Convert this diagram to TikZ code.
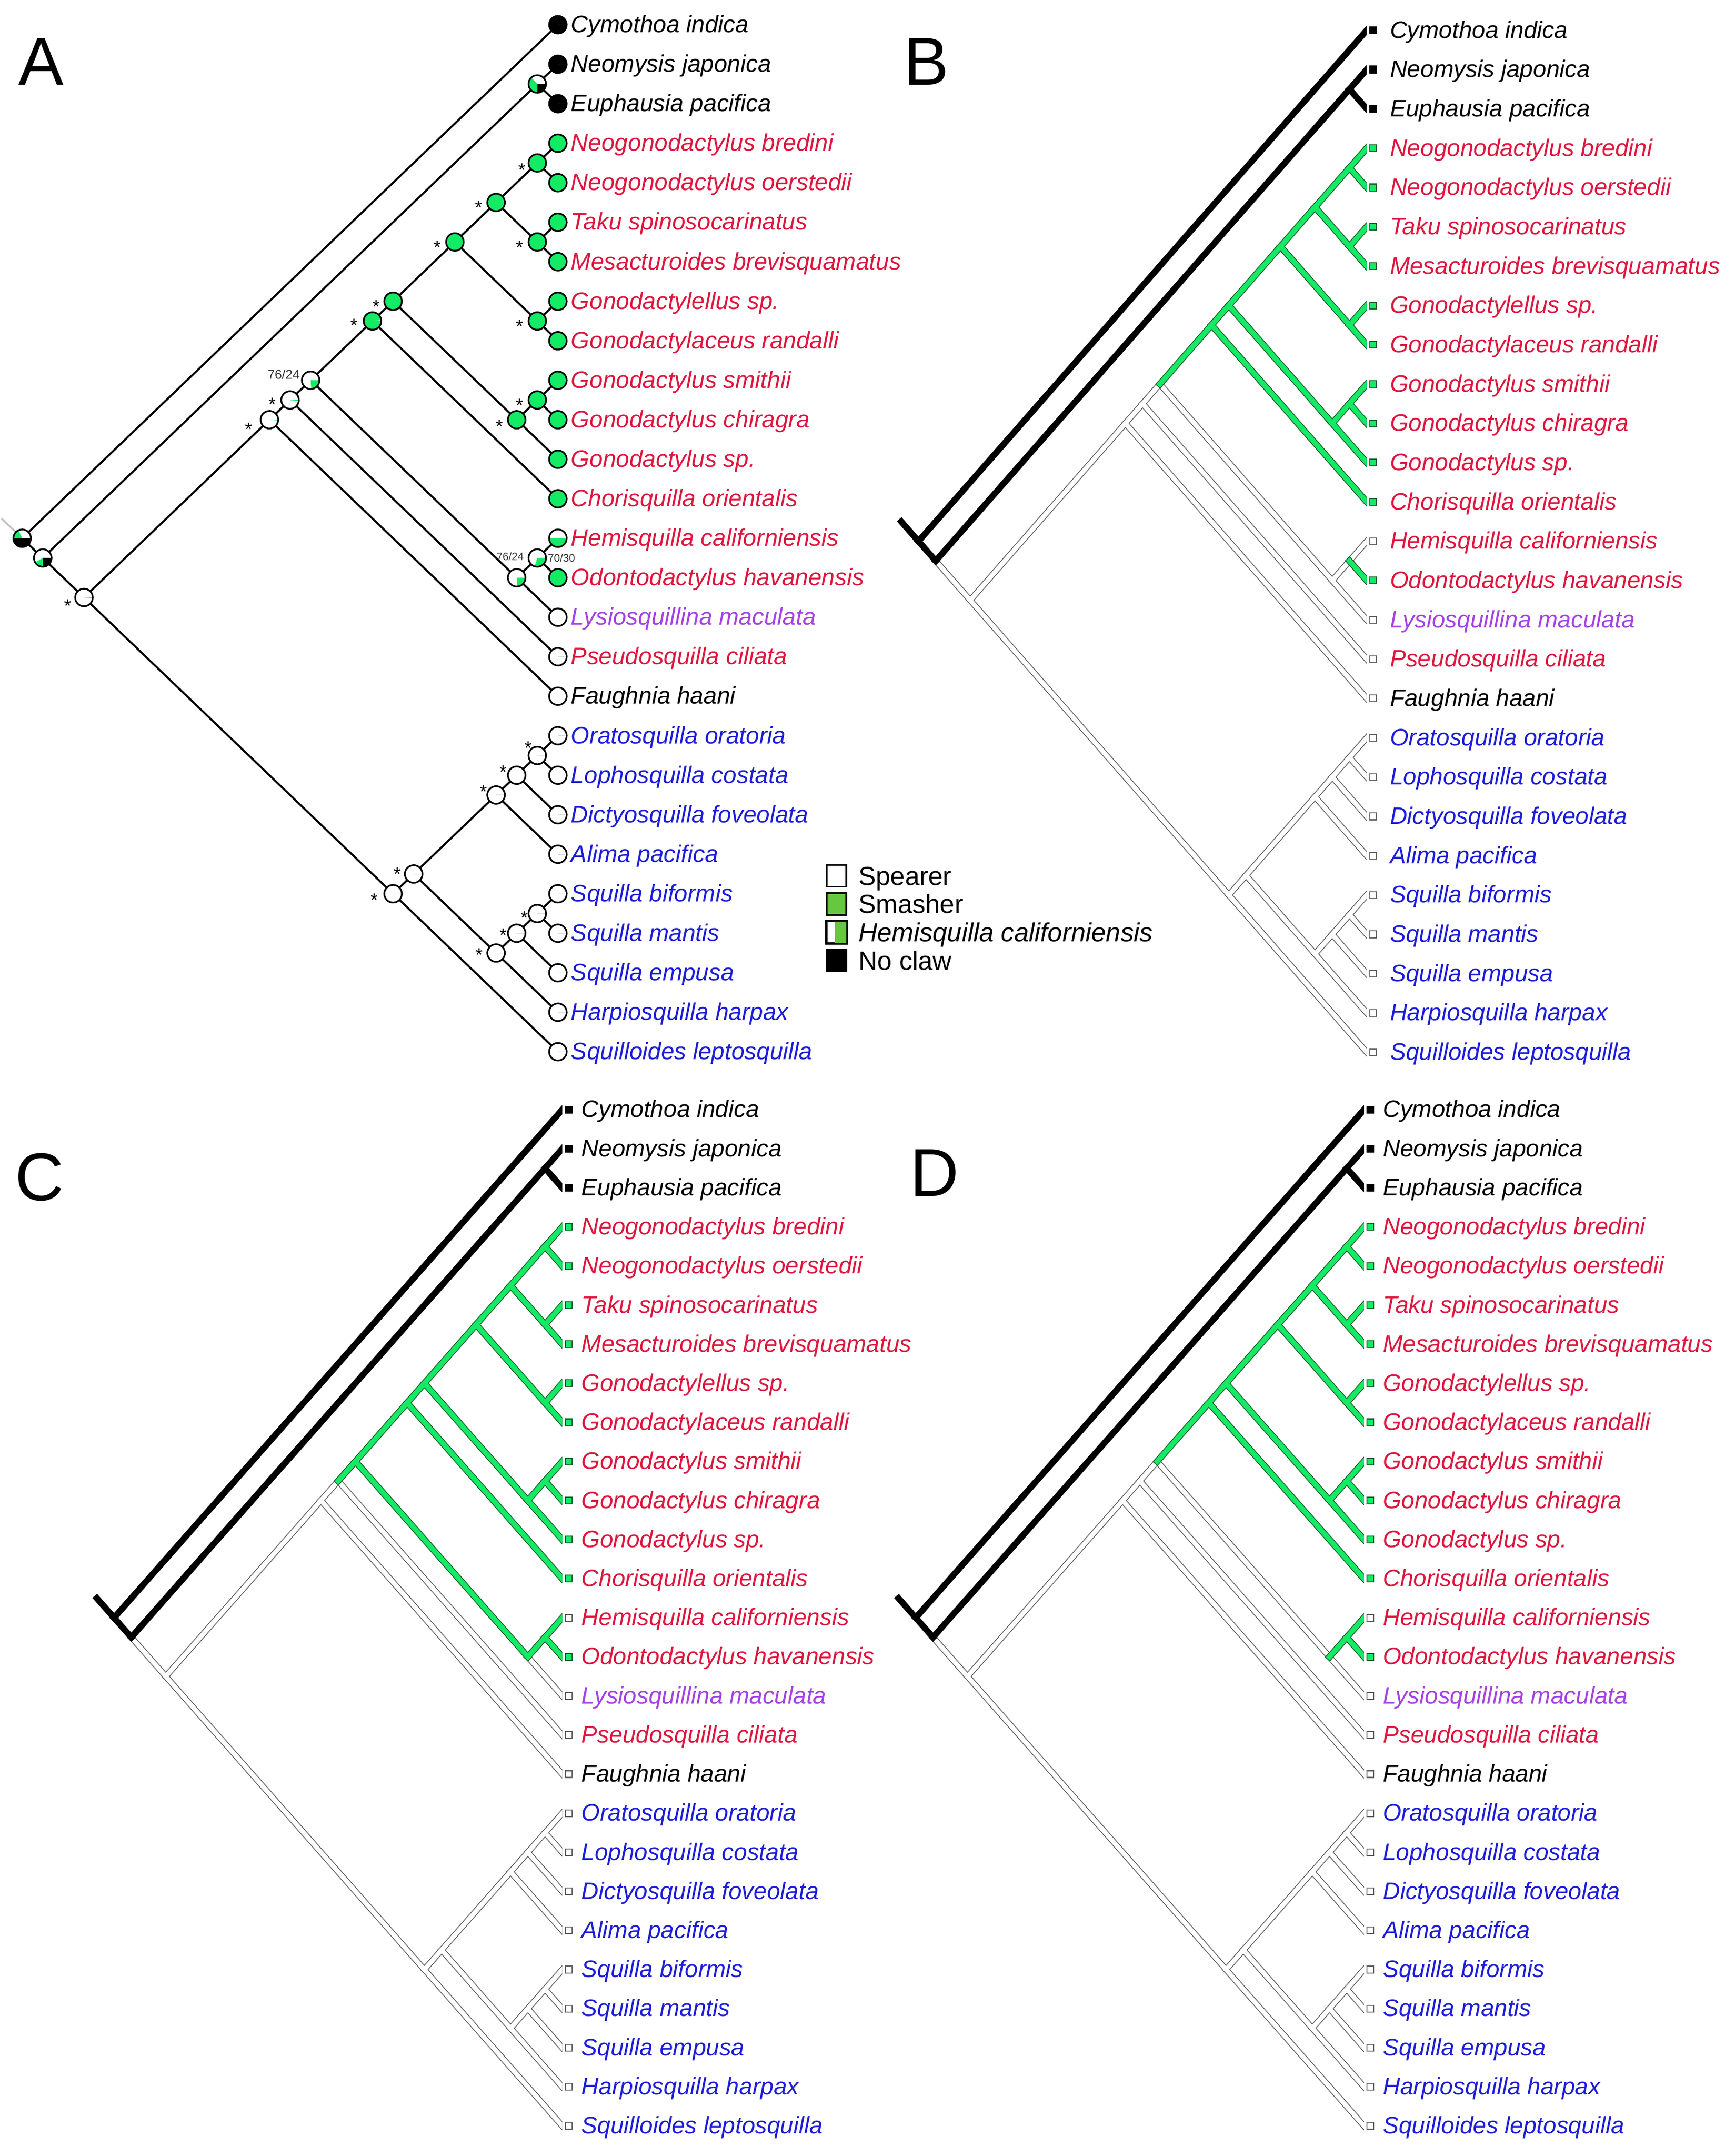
\documentclass[tikz,border=0pt]{standalone}
\usepackage{fontspec}
\setmainfont{Liberation Sans}
\definecolor{smash}{RGB}{20,235,100}
\definecolor{smashedge}{RGB}{30,95,50}
\definecolor{spearedge}{RGB}{100,100,100}
\definecolor{keygreen}{RGB}{102,200,62}
\definecolor{gonored}{RGB}{222,22,62}
\definecolor{squillablue}{RGB}{28,28,218}
\definecolor{lysiopurple}{RGB}{165,65,228}

% leaves: index/name/colour
\newcommand\leafnames{0/Cymothoa indica/black,1/Neomysis japonica/black,2/Euphausia pacifica/black,3/Neogonodactylus bredini/gonored,4/Neogonodactylus oerstedii/gonored,5/Taku spinosocarinatus/gonored,6/Mesacturoides brevisquamatus/gonored,7/Gonodactylellus sp./gonored,8/Gonodactylaceus randalli/gonored,9/Gonodactylus smithii/gonored,10/Gonodactylus chiragra/gonored,11/Gonodactylus sp./gonored,12/Chorisquilla orientalis/gonored,13/Hemisquilla californiensis/gonored,14/Odontodactylus havanensis/gonored,15/Lysiosquillina maculata/lysiopurple,16/Pseudosquilla ciliata/gonored,17/Faughnia haani/black,18/Oratosquilla oratoria/squillablue,19/Lophosquilla costata/squillablue,20/Dictyosquilla foveolata/squillablue,21/Alima pacifica/squillablue,22/Squilla biformis/squillablue,23/Squilla mantis/squillablue,24/Squilla empusa/squillablue,25/Harpiosquilla harpax/squillablue,26/Squilloides leptosquilla/squillablue}

% clade nodes, in tree units (depth, half leaf rows)
\newcommand\cladecoords[1]{%
  \foreach \i in {0,...,26} {\coordinate (#1-\i) at (0,2*\i);}
  \coordinate (#1-root) at (26,26);
  \coordinate (#1-stub) at (27,25);
  \coordinate (#1-out) at (25,27);
  \coordinate (#1-mys) at (1,3);
  \coordinate (#1-sto) at (23,29);
  \coordinate (#1-gon17) at (14,20);
  \coordinate (#1-gon16) at (13,19);
  \coordinate (#1-x1) at (12,18);
  \coordinate (#1-g1) at (9,15);
  \coordinate (#1-g2) at (8,14);
  \coordinate (#1-g3) at (5,11);
  \coordinate (#1-g4) at (3,9);
  \coordinate (#1-neo) at (1,7);
  \coordinate (#1-tak) at (1,11);
  \coordinate (#1-gll) at (1,15);
  \coordinate (#1-gsp) at (2,20);
  \coordinate (#1-gsm) at (1,19);
  \coordinate (#1-hem3) at (2,28);
  \coordinate (#1-hem2) at (1,27);
  \coordinate (#1-squ) at (8,44);
  \coordinate (#1-sq8) at (7,43);
  \coordinate (#1-ora4) at (3,39);
  \coordinate (#1-ora3) at (2,38);
  \coordinate (#1-ora2) at (1,37);
  \coordinate (#1-sqm4) at (3,47);
  \coordinate (#1-sqm3) at (2,46);
  \coordinate (#1-sqm2) at (1,45);
}

\newcommand\noclawedges{root/0,root/out,out/mys,mys/1,mys/2}
\newcommand\spearedges{out/sto,sto/gon17,sto/squ,gon17/gon16,gon17/17,gon16/16,squ/sq8,squ/26,sq8/ora4,sq8/sqm4,ora4/ora3,ora4/21,ora3/ora2,ora3/20,ora2/18,ora2/19,sqm4/sqm3,sqm4/25,sqm3/sqm2,sqm3/24,sqm2/22,sqm2/23}
\newcommand\smashedges{x1/g1,g1/g2,g1/12,g2/g3,g2/gsp,gsp/gsm,gsp/11,gsm/9,gsm/10,g3/g4,g3/gll,gll/7,gll/8,g4/neo,g4/tak,neo/3,neo/4,tak/5,tak/6}

% banded tree: prefix, extra spearer edges, extra smasher edges
\newcommand\bandtree[3]{%
  \foreach \pa/\ch in \spearedges {\draw[spearline] (#1-\pa) -- (#1-\ch);}
  \foreach \pa/\ch in {#2} {\draw[spearline] (#1-\pa) -- (#1-\ch);}
  \foreach \pa/\ch in \spearedges {\draw[spearfill] (#1-\pa) -- (#1-\ch);}
  \foreach \pa/\ch in {#2} {\draw[spearfill] (#1-\pa) -- (#1-\ch);}
  \foreach \pa/\ch in \smashedges {\draw[smashline] (#1-\pa) -- (#1-\ch);}
  \foreach \pa/\ch in {#3} {\draw[smashline] (#1-\pa) -- (#1-\ch);}
  \foreach \pa/\ch in \smashedges {\draw[smashfill] (#1-\pa) -- (#1-\ch);}
  \foreach \pa/\ch in {#3} {\draw[smashfill] (#1-\pa) -- (#1-\ch);}
  \foreach \pa/\ch in \noclawedges {\draw[noclaw] (#1-\pa) -- (#1-\ch);}
  \draw[noclaw] (#1-root) -- (#1-stub);
}

% tip squares and names
\newcommand\tipmarks[2]{%
  \foreach \i in {0,1,2} {\node[tipsq, fill=black, draw=black] (#1-m\i) at ([xshift=#2]#1-\i) {};}
  \foreach \i in {3,4,5,6,7,8,9,10,11,12,14} {\node[tipsq, fill=smash, draw=smashedge] (#1-m\i) at ([xshift=#2]#1-\i) {};}
  \foreach \i in {13,15,16,17,18,19,20,21,22,23,24,25,26} {\node[tipsq, fill=white, draw=spearedge] (#1-m\i) at ([xshift=#2]#1-\i) {};}
}
\newcommand\leaflabels[2]{%
  \foreach \i/\nm/\cl in \leafnames {\node[leaf, text=\cl] (#1-t\i) at ([xshift=#2, yshift=-4.6pt]#1-\i) {\nm};}
}

% pie: centre, black degrees, green degrees (clockwise from 3 o'clock)
\newcommand\statepie[3]{%
  \fill[white] (#1) circle[radius=5.2pt];
  \fill[black] (#1) -- ++(0:5.2pt) arc[start angle=0, end angle=-#2, radius=5.2pt] -- cycle;
  \fill[smash] (#1) -- ++(-#2:5.2pt) arc[start angle=-#2, end angle={-#2-#3}, radius=5.2pt] -- cycle;
  \draw[ring] (#1) circle[radius=5.2pt];
}

\begin{document}
\begin{tikzpicture}[x=0.02843cm, y=-0.028571cm,
    branch/.style={line width=1.2pt, black},
    stubline/.style={line width=1pt, black!25},
    ring/.style={line width=1pt, black},
    spearline/.style={line width=3.7pt, spearedge, line cap=rect},
    spearfill/.style={line width=2.7pt, white, line cap=rect},
    smashline/.style={line width=3.9pt, smashedge, line cap=rect},
    smashfill/.style={line width=2.9pt, smash, line cap=rect},
    noclaw/.style={line width=3.7pt, black, line cap=rect},
    tipsq/.style={rectangle, minimum size=4pt, inner sep=0pt, line width=0.6pt},
    leaf/.style={anchor=base west, inner sep=0pt, font=\fontsize{14.1}{16}\selectfont\itshape},
    support/.style={inner sep=0pt, font=\fontsize{11}{11}\selectfont},
    pp/.style={inner sep=0pt, text=black!80, font=\fontsize{7.6}{8}\selectfont},
    ppsmall/.style={inner sep=0pt, text=black!80, font=\fontsize{6.4}{7}\selectfont},
    keybox/.style={rectangle, draw=black, line width=1pt, minimum width=11.5pt, minimum height=12.8pt, inner sep=0pt},
    keytext/.style={anchor=base west, inner sep=0pt, font=\fontsize{15.5}{17}\selectfont},
    panel/.style={inner sep=0pt, font=\fontsize{40}{40}\selectfont}]

\useasboundingbox (0,0) rectangle (1268,1568);

% ---- A: ancestral states ----
\begin{scope}[shift={(407.8,18)}, x={(-0.428156cm,0)}, y={(0,-0.410280cm)}]
	\cladecoords{A}
\end{scope}
\draw[stubline] (A-root) -- (A-stub);
\foreach \pa/\ch in \noclawedges {\draw[branch] (A-\pa) -- (A-\ch);}
\foreach \pa/\ch in \spearedges {\draw[branch] (A-\pa) -- (A-\ch);}
\foreach \pa/\ch in \smashedges {\draw[branch] (A-\pa) -- (A-\ch);}
\foreach \pa/\ch in {gon16/x1,x1/hem3,hem3/hem2,hem2/13,hem2/14,hem3/15} {\draw[branch] (A-\pa) -- (A-\ch);}

\foreach \n/\bk/\gr in {0/360/0,1/360/0,2/360/0,3/0/360,4/0/360,5/0/360,6/0/360,7/0/360,8/0/360,9/0/360,10/0/360,11/0/360,12/0/360,13/0/180,14/0/360,
    15/0/0,16/0/0,17/0/0,18/0/0,19/0/0,20/0/0,21/0/0,22/0/0,23/0/0,24/0/0,25/0/0,26/0/0,
    root/180/65,out/90/60,mys/90/137,sto/0/5,gon17/0/5,gon16/0/6,x1/0/86,hem3/0/86,hem2/0/108,
    g1/0/354,g2/0/360,g3/0/360,g4/0/360,neo/0/360,tak/0/360,gll/0/360,gsp/0/360,gsm/0/360,
    squ/0/0,sq8/0/0,ora4/0/0,ora3/0/0,ora2/0/0,sqm4/0/0,sqm3/0/0,sqm2/0/0}
    {\statepie{A-\n}{\bk}{\gr}}

\foreach \n/\dx/\dy in {neo/-9.1/-4.1,tak/-10.3/-3.1,gll/-10.3/-3.1,gsm/-10.3/-3.1,gsp/-10.3/-4.1,
    g4/-10.3/-3.1,g3/-10.3/-3.1,g2/-10/-3.1,g1/-10.8/-2.7,gon16/-10.6/-2.6,gon17/-12.1/-5.7,sto/-9.4/-4.9,
    squ/-11.2/-3.6,sq8/-9.5/-0.1,sqm4/-10/-1,sqm3/-7.8/-1,sqm2/-7.6/-2.5,ora4/-7.3/2,ora3/-7.8/1.9,ora2/-5.2/4.4}
    {\node[support] (A-s\n) at ([shift={(\dx pt,\dy pt)}]A-\n) {*};}

\node[pp, anchor=east] (A-px1) at ([shift={(-6.2pt,3.6pt)}]A-x1) {76/24};
\node[ppsmall, anchor=east] (A-phem3) at ([shift={(4.3pt,12.5pt)}]A-hem3) {76/24};
\node[ppsmall, anchor=west] (A-phem2) at ([shift={(6.1pt,0pt)}]A-hem2) {70/30};
\leaflabels{A}{7.6pt}

% legend
\node[keybox, fill=white] (key-spear) at (611.5,637) {};
\node[keybox, fill=keygreen] (key-smash) at (611.5,657.5) {};
\node[keybox, fill=white] (key-hemi) at (611.5,678) {};
\fill[keygreen] ([xshift=-1pt]key-hemi.north) rectangle (key-hemi.south east);
\draw[line width=1pt] (key-hemi.south west) rectangle (key-hemi.north east);
\node[keybox, fill=black] (key-none) at (611.5,698.5) {};
\node[keytext] (key-spear-t) at ([xshift=6.5pt, yshift=-5.5pt]key-spear.east) {Spearer};
\node[keytext] (key-smash-t) at ([xshift=6.5pt, yshift=-5.5pt]key-smash.east) {Smasher};
\node[keytext] (key-hemi-t) at ([xshift=6.5pt, yshift=-5.5pt]key-hemi.east) {\itshape Hemisquilla californiensis};
\node[keytext] (key-none-t) at ([xshift=6.5pt, yshift=-5.5pt]key-none.east) {No claw};

% ---- B ----
\begin{scope}[shift={(999,22)}, x={(-0.358218cm,0)}, y={(0,-0.408280cm)}]
	\cladecoords{B}
	\begin{scope}
		\clip (0,-3) rectangle (28,55);
		\bandtree{B}{gon16/x1,x1/hem3,hem3/hem2,hem2/13,hem3/15}{hem2/14}
	\end{scope}
\end{scope}
\tipmarks{B}{3.8pt}
\leaflabels{B}{13.6pt}

% ---- C ----
\begin{scope}[shift={(411,807)}, x={(-0.358218cm,0)}, y={(0,-0.405994cm)}]
	\cladecoords{C}
	\begin{scope}
		\clip (0,-3) rectangle (28,55);
		\bandtree{C}{hem3/15}{gon16/x1,x1/hem3,hem3/hem2,hem2/13,hem2/14}
	\end{scope}
\end{scope}
\tipmarks{C}{3.8pt}
\leaflabels{C}{11.2pt}

% ---- D ----
\begin{scope}[shift={(997,807)}, x={(-0.358218cm,0)}, y={(0,-0.405994cm)}]
	\cladecoords{D}
	\begin{scope}
		\clip (0,-3) rectangle (28,55);
		\bandtree{D}{gon16/x1,x1/hem3,hem3/15}{hem3/hem2,hem2/13,hem2/14}
	\end{scope}
\end{scope}
\tipmarks{D}{3.8pt}
\leaflabels{D}{11pt}

\node[panel] (lab-A) at (30,45) {A};
\node[panel] (lab-B) at (677,45) {B};
\node[panel] (lab-C) at (29,856) {C};
\node[panel] (lab-D) at (683,853) {D};

\end{tikzpicture}
\end{document}
